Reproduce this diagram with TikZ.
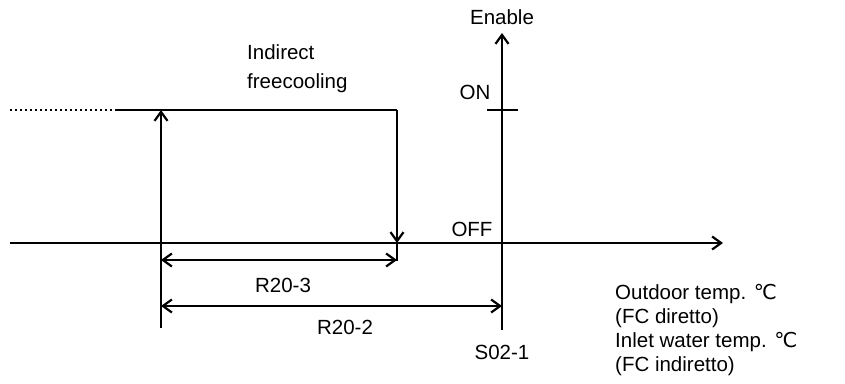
\documentclass[tikz,border=0pt]{standalone}
\usepackage{fontspec}
\setmainfont{Liberation Sans}
\newfontfamily\symfont{DejaVu Sans}
\usetikzlibrary{arrows.meta}
\begin{document}
\begin{tikzpicture}[x=1pt,y=-1pt,
  ln/.style={line width=2pt},
  tip/.tip={Straight Barb[length=9pt,width=13pt,line width=2.2pt]},
  arr/.style={ln,-tip},
  darr/.style={ln,tip-tip},
  lbl/.style={font=\fontsize{20.5}{24}\selectfont, inner sep=0pt}]
\useasboundingbox (0,0) rectangle (845,383);
% coordinates
\coordinate (xs) at (10,243);
\coordinate (xe) at (723,243);
\coordinate (ys) at (502,330);
\coordinate (ye) at (502,33);
\coordinate (onl) at (487,110);
\coordinate (onr) at (518,110);
\coordinate (dots) at (10,110);
\coordinate (dote) at (117,110);
\coordinate (lb) at (161,328);
\coordinate (lt) at (161,110);
\coordinate (rt) at (397,110);
\coordinate (rb) at (397,243);
\coordinate (rbb) at (397,261);
\coordinate (a3l) at (161,260);
\coordinate (a3r) at (397,260);
\coordinate (a2l) at (161,306);
\coordinate (a2r) at (502,306);
% axes
\draw[arr] (xs) -- (xe);
\draw[arr] (ys) -- (ye);
\draw[ln] (onl) -- (onr);
% hysteresis
\draw[ln, dash pattern=on 2pt off 3pt] (dots) -- (dote);
\draw[ln] (dote) -- (rt);
\draw[ln] (lb) -- (a3l);
\draw[arr] (a3l) -- (lt);
\draw[arr] (rt) -- (rb);
\draw[ln] (rb) -- (rbb);
\draw[darr] (a3l) -- (a3r);
\draw[darr] (a2l) -- (a2r);
% labels
\node[lbl] (en) at (502,17) {Enable};
\node[lbl] (on) at (475,92) {ON};
\node[lbl] (off) at (472,229) {OFF};
\node[lbl, anchor=west, align=left, font=\fontsize{20.5}{29}\selectfont] (ind) at (247,69) {Indirect\\freecooling};
\node[lbl] (r3) at (283,285) {R20-3};
\node[lbl] (r2) at (345,327) {R20-2};
\node[lbl] (s02) at (502,352) {S02-1};
\node[lbl, anchor=north west, align=left] (out) at (615,284) {Outdoor temp. {\symfont ℃}\\(FC diretto)\\Inlet water temp. {\symfont ℃}\\(FC indiretto)};
\end{tikzpicture}
\end{document}
